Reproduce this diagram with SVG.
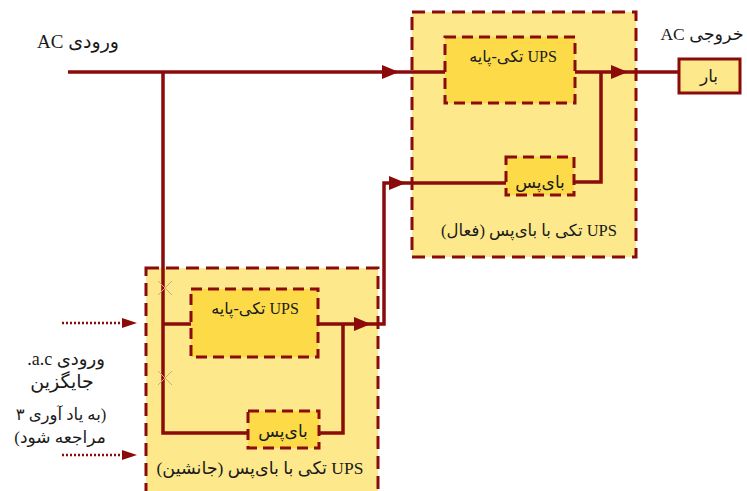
<svg xmlns="http://www.w3.org/2000/svg" width="747" height="491" viewBox="0 0 747 491">
<style>
.outer{fill:#fde98b;stroke:#8b0a0a;stroke-width:3;stroke-dasharray:13 7}
.inner{fill:#fdda48;stroke:#8b0a0a;stroke-width:3;stroke-dasharray:11 6}
.wire{fill:none;stroke:#8b0a0a;stroke-width:3.5}
.dot{fill:none;stroke:#8b0a0a;stroke-width:2.5;stroke-dasharray:2 2}
.xm{stroke:#d9a47a;stroke-width:1}
text{font-family:"Liberation Serif","DejaVu Sans",serif;font-size:16px;fill:#1a1a1a;text-anchor:middle;direction:rtl}
</style>
<defs>
<path id="ah" d="M0,0 L-17,-7 L-17,7 Z" fill="#8b0a0a"/>
<path id="ahs" d="M0,0 L-15,-5 L-15,5 Z" fill="#8b0a0a"/>
</defs>

<g id="standby-ups">
<rect class="outer" x="146" y="268" width="232" height="232"/>
<text x="260" y="474" style="font-size:17.5px">UPS تکی با بای‌پس (جانشین)</text>
</g>
<g id="active-ups">
<rect class="outer" x="412" y="12" width="224" height="245"/>
<text x="529" y="236" style="font-size:16.5px">UPS تکی با بای‌پس (فعال)</text>
</g>

<g id="top-ups">
<rect class="inner" x="445" y="37" width="130" height="66"/>
<text x="513" y="62">UPS تکی-پایه</text>
</g>
<g id="top-bypass">
<rect class="inner" x="506" y="157" width="68" height="38"/>
<text x="540" y="188" style="font-size:17px">بای‌پس</text>
</g>
<g id="bottom-ups">
<rect class="inner" x="191" y="289" width="127" height="68"/>
<text x="255" y="314">UPS تکی-پایه</text>
</g>
<g id="bottom-bypass">
<rect class="inner" x="248" y="411" width="71" height="37"/>
<text x="283" y="437" style="font-size:17px">بای‌پس</text>
</g>
<g id="load">
<rect x="679" y="59" width="61" height="34" fill="#fde98b" stroke="#8b0a0a" stroke-width="3"/>
<text x="709" y="82" style="font-size:17px">بار</text>
</g>

<g id="connectors">
<path class="wire" d="M68,72 H445"/>
<path class="wire" d="M163,72 V433 H248"/>
<path class="wire" d="M163,324 H191"/>
<path class="wire" d="M318,324 H384 V183 H506"/>
<path class="wire" d="M319,433 H343 V324"/>
<path class="wire" d="M574,182 H601 V72"/>
<path class="wire" d="M575,72 H679"/>
<use href="#ah" transform="translate(399,72)"/>
<use href="#ah" transform="translate(628,72)"/>
<use href="#ah" transform="translate(406,183)"/>
<use href="#ah" transform="translate(371,324)"/>
<path class="dot" d="M62,323 H124"/>
<path class="dot" d="M62,455 H124"/>
<use href="#ahs" transform="translate(137,323)"/>
<use href="#ahs" transform="translate(137,455)"/>
<path class="xm" d="M158,281 L172,295 M172,281 L158,295 M158,371 L172,385 M172,371 L158,385"/>
</g>

<g id="labels">
<text x="78" y="48" style="font-size:19px">ورودی AC</text>
<text x="702" y="40" style="font-size:17.5px">خروجی AC</text>
<text x="66" y="365" style="font-size:18px">ورودی a.c.</text>
<text x="62" y="388" style="font-size:19px">جایگزین</text>
<text x="61" y="420" style="font-size:16.5px">(به یاد آوری ۳</text>
<text x="60" y="443" style="font-size:17px">مراجعه شود)</text>
</g>
</svg>
